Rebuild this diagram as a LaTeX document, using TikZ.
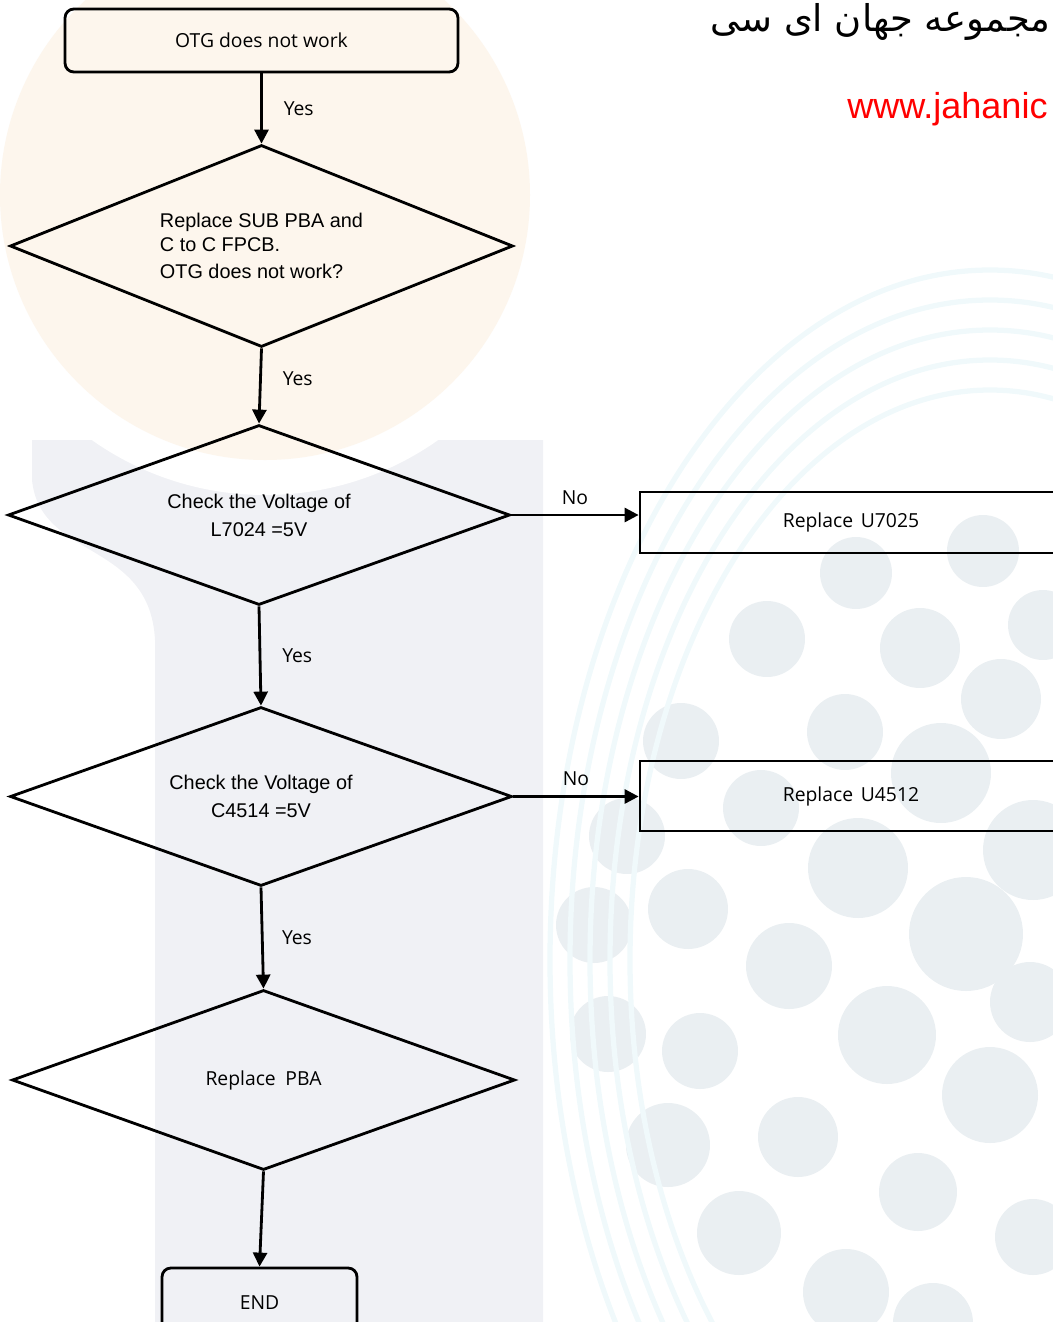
\documentclass[tikz,border=0pt]{standalone}
\usepackage{fontspec}
\setmainfont{Liberation Sans}
\newfontfamily\uifont{Open Sans}
\newfontfamily\farsifont[Script=Arabic]{DejaVu Sans}
\TeXXeTstate=1
\usepackage{tikz}
\usetikzlibrary{shapes.geometric,arrows.meta,positioning,calc}
\definecolor{peachBg}{RGB}{253,246,237}
\definecolor{greyBg}{RGB}{240,241,245}
\definecolor{dotGrey}{RGB}{234,239,242}
\definecolor{traceCyan}{RGB}{240,249,251}
\definecolor{linkRed}{RGB}{255,0,0}

\begin{document}
\begin{tikzpicture}[x=0.02cm, y=-0.02cm,
          flow/.style={line width=1.6pt},
          termbox/.style={flow, draw, rounded corners=5pt,
            minimum width=7.86cm, minimum height=1.26cm,
            font=\uifont\fontsize{11}{13}\selectfont},
          decision/.style={flow, draw, diamond, aspect=2.5, inner sep=0pt, align=center,
            font=\fontsize{11.3}{15.9}\selectfont},
          actbox/.style={flow, draw, minimum width=8.44cm,
            font=\uifont\fontsize{11}{13}\selectfont},
          lbl/.style={font=\uifont\fontsize{11}{13}\selectfont},
          >={Triangle[length=0.28cm,width=0.28cm]}
        ]
          \useasboundingbox (0,0) rectangle (1053,1322);
          \fill[greyBg] (32,440) -- (543,440) -- (543,1322) -- (155,1322) -- (155,640)
            .. controls (150,540) and (40,560) .. (32,480) -- cycle;
          \foreach \cx/\cy/\r in {856/573/36, 983/551/36, 1043/625/35, 767/639/38, 920/648/40,
              1001/699/40, 681/741/38, 845/732/38, 941/773/50, 761/808/38, 627/836/38,
              858/868/50, 1033/850/50, 594/925/38, 688/909/40, 789/966/43, 966/934/57,
              1030/1002/40, 608/1034/38, 700/1051/38, 887/1035/49, 990/1095/48,
              668/1145/42, 798/1137/40, 918/1192/39, 739/1233/42, 1033/1237/38,
              846/1292/43, 933/1323/40}
            \fill[dotGrey] (\cx,\cy) circle (\r);
          \foreach \rx/\ry in {440/690, 420/660, 400/630, 380/600, 360/570}
            \draw[traceCyan, line width=3pt] (990,960) ellipse [x radius=\rx, y radius=\ry];
          \fill[white] (265,195) circle (300);
          \fill[peachBg] (265,195) circle (265);
          \node[font=\farsifont\fontsize{21}{25}\selectfont, anchor=base east, inner sep=0]
            (brandfa) at (1051,31) {\beginR مجموعه جهان ای سی\endR};
          \node[font=\fontsize{20.5}{24}\selectfont, text=linkRed, anchor=base west, inner sep=0]
            (brandweb) at (847,118) {www.jahanic};

          \node[termbox] (start) at (261.5,40.5) {OTG does not work};
          \node[decision, align=left, font=\fontsize{11.3}{13.6}\selectfont,
            minimum width=10.06cm, minimum height=4.04cm] (subpba) at (261.5,246)
            {Replace SUB PBA and\\C to C FPCB.\\[2pt]OTG does not work?};
          \node[decision, minimum width=10.04cm, minimum height=3.6cm] (l7024) at (259,515)
            {Check the Voltage of\\L7024 =5V};
          \node[decision, minimum width=10.04cm, minimum height=3.58cm] (c4514) at (261,796.5)
            {Check the Voltage of\\C4514 =5V};
          \node[decision, font=\uifont\fontsize{11}{13}\selectfont,
            minimum width=10.06cm, minimum height=3.6cm] (pba) at (263.5,1080)
            {Replace\hspace{0.5em}PBA};
          \node[actbox, minimum height=1.22cm] (u7025) at (851,522.5) {Replace\hspace{0.4em}U7025};
          \node[actbox, minimum height=1.4cm] (u4512) at (851,796) {Replace\hspace{0.4em}U4512};
          \node[termbox, minimum width=3.9cm, minimum height=1.4cm] (finish) at (259.5,1303) {END};

          \draw[->,flow] (start) -- (subpba.north) node[lbl, midway, right=0.3cm] {Yes};
          \draw[->,flow] (subpba.south) -- (l7024.north) node[lbl, pos=0.4, right=0.3cm] {Yes};
          \draw[->,flow] (l7024.south) -- (c4514.north) node[lbl, midway, right=0.3cm] {Yes};
          \draw[->,flow] (c4514.south) -- (pba.north) node[lbl, midway, right=0.25cm] {Yes};
          \draw[->,flow] (pba.south) -- (finish.north);
          \draw[->,flow] (l7024.east) -- (l7024.east -| u7025.west) node[lbl, midway, above=2pt] {No};
          \draw[->,flow] (c4514.east) -- (c4514.east -| u4512.west) node[lbl, midway, above=2pt] {No};
        \end{tikzpicture}
\end{document}
